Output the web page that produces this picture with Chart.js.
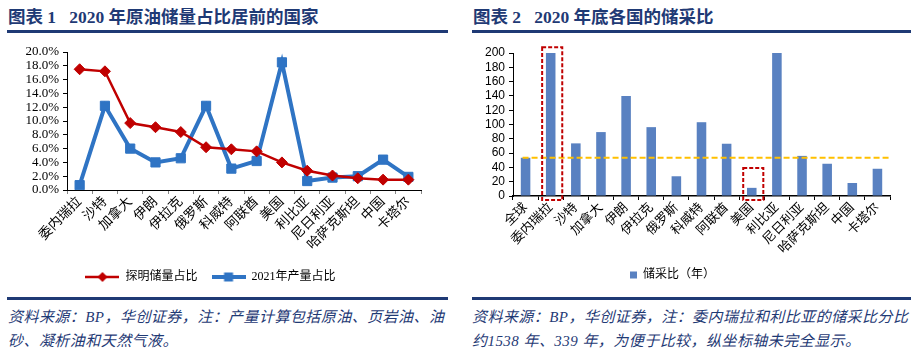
<!DOCTYPE html>
<html>
<head>
<meta charset="utf-8">
<script src="https://cdn.jsdelivr.net/npm/chart.js@4.4.1/dist/chart.umd.min.js"></script>
<style>
body { margin: 0; width: 911px; height: 354px; background: #fff; position: relative; overflow: hidden;
  font-family: "Liberation Serif", "Noto Sans CJK SC", serif; }
.title { position: absolute; top: 6px; font-size: 17.5px; font-weight: bold; color: #1f3a75; white-space: pre; line-height: 22px; }
.rule { position: absolute; height: 3px; background: #1f3a75; }
.note { position: absolute; font-size: 15px; font-style: italic; color: #1f3a75; white-space: nowrap; line-height: 20px; letter-spacing: 0.45px; }
.wrap { position: absolute; top: 36px; }
</style>
</head>
<body>
<div class="title" style="left:8px">图表 1   2020 年原油储量占比居前的国家</div>
<div class="title" style="left:473px">图表 2   2020 年底各国的储采比</div>
<div class="rule" style="left:7px;width:441px;top:30px"></div>
<div class="rule" style="left:472px;width:439px;top:30px"></div>

<div class="wrap" style="left:0;width:455px;height:257px"><canvas id="share"></canvas></div>
<div class="wrap" style="left:455px;width:456px;height:255px"><canvas id="ratio"></canvas></div>

<div class="rule" style="left:7px;width:441px;top:297px"></div>
<div class="rule" style="left:472px;width:439px;top:297px"></div>
<div class="note" style="left:8px;top:307px">资料来源：BP，华创证券，注：产量计算包括原油、页岩油、油</div>
<div class="note" style="left:8px;top:331px">砂、凝析油和天然气液。</div>
<div class="note" style="left:472px;top:307px">资料来源：BP，华创证券，注：委内瑞拉和利比亚的储采比分比</div>
<div class="note" style="left:472px;top:331px">约1538 年、339 年，为便于比较，纵坐标轴未完全显示。</div>

<script>
const countries = ['委内瑞拉', '沙特', '加拿大', '伊朗', '伊拉克', '俄罗斯', '科威特', '阿联酋', '美国', '利比亚', '尼日利亚', '哈萨克斯坦', '中国', '卡塔尔'];
const reserveShare = [17.5, 17.2, 9.7, 9.1, 8.4, 6.2, 5.9, 5.6, 4.0, 2.8, 2.1, 1.7, 1.5, 1.5];
const outputShare = [0.7, 12.2, 6.0, 4.0, 4.6, 12.2, 3.1, 4.2, 18.5, 1.3, 1.8, 2.0, 4.4, 1.9];

const ratioCountries = ['全球', '委内瑞拉', '沙特', '加拿大', '伊朗', '伊拉克', '俄罗斯', '科威特', '阿联酋', '美国', '利比亚', '尼日利亚', '哈萨克斯坦', '中国', '卡塔尔'];
const rpRatio = [53.5, 200, 73.6, 89.4, 139.8, 96.3, 27.6, 103.2, 73.1, 11.4, 200, 56.1, 45.1, 18.2, 38.1];
const globalRatio = 53.5;
const boxedCountries = ['委内瑞拉', '美国'];
const boxTops = [208, 39];

const serif = "'Liberation Serif', 'Noto Sans CJK SC', serif";
const RED = '#c00000';
const BLUE = '#2f74c4';

// small legend swatch: line with a marker in the middle
const swatch = (color, lw, marker) => {
    const c = document.createElement('canvas');
    c.width = 34; c.height = 14;
    const g = c.getContext('2d');
    g.strokeStyle = color; g.fillStyle = color; g.lineWidth = lw;
    g.beginPath(); g.moveTo(0, 7); g.lineTo(34, 7); g.stroke();
    g.beginPath();
    if (marker === 'diamond') {
        g.moveTo(17, 2); g.lineTo(22, 7); g.lineTo(17, 12); g.lineTo(12, 7);
    } else {
        g.rect(12.5, 2.5, 9, 9);
    }
    g.fill();
    return c;
};

new Chart(document.getElementById('share'), {
    type: 'line',
    data: {
        labels: countries,
        datasets: [
            {
                label: '探明储量占比',
                data: reserveShare,
                borderColor: RED,
                backgroundColor: RED,
                borderWidth: 2.5,
                pointStyle: 'rectRot',
                pointRadius: 5.5,
                pointBorderWidth: 1,
                tension: 0,
            },
            {
                label: '2021年产量占比',
                data: outputShare,
                borderColor: BLUE,
                backgroundColor: BLUE,
                borderWidth: 4,
                pointStyle: 'rect',
                pointRadius: 6.5,
                pointBorderWidth: 1,
                tension: 0,
            }
        ]
    },
    options: {
        responsive: true,
        maintainAspectRatio: false,
        animation: false,
        layout: { padding: { top: 16, right: 34, left: 0, bottom: 0 } },
        plugins: {
            legend: {
                position: 'bottom',
                labels: {
                    usePointStyle: true,
                    pointStyleWidth: 34,
                    padding: 14,
                    color: '#000',
                    font: { size: 12, family: serif },
                    generateLabels: (chart) => [
                        { text: '探明储量占比', pointStyle: swatch(RED, 2.5, 'diamond'), datasetIndex: 0, lineWidth: 0, fillStyle: RED, strokeStyle: RED },
                        { text: '2021年产量占比', pointStyle: swatch(BLUE, 4, 'square'), datasetIndex: 1, lineWidth: 0, fillStyle: BLUE, strokeStyle: BLUE },
                    ]
                }
            },
            tooltip: { enabled: false }
        },
        scales: {
            x: {
                offset: true,
                afterFit: (scale) => { scale.height = 67; },
                grid: { offset: true, drawOnChartArea: false, tickLength: 4, color: '#888' },
                border: { color: '#000', width: 1 },
                ticks: { minRotation: 45, maxRotation: 45, autoSkip: false, padding: 0, color: '#000', font: { size: 13.5, family: serif } }
            },
            y: {
                min: 0,
                max: 20,
                afterFit: (scale) => { scale.width = 67; },
                grid: { drawOnChartArea: false, tickLength: 4, color: '#000' },
                border: { color: '#000', width: 1 },
                ticks: { stepSize: 2, autoSkip: false, padding: 4, color: '#000', font: { size: 13, family: serif },
                    callback: (v) => v.toFixed(1) + '%' }
            }
        }
    }
});

const refMarks = {
    id: 'refMarks',
    afterDatasetsDraw(chart) {
        const { ctx, chartArea, scales: { x, y } } = chart;
        const cat = x.width / ratioCountries.length;
        ctx.save();
        ctx.strokeStyle = '#ffc000';
        ctx.lineWidth = 2;
        ctx.setLineDash([6, 3]);
        const gy = y.getPixelForValue(globalRatio);
        ctx.beginPath();
        ctx.moveTo(x.getPixelForValue(0) - 3, gy);
        ctx.lineTo(chartArea.right, gy);
        ctx.stroke();

        ctx.strokeStyle = RED;
        ctx.setLineDash([4, 2]);
        boxedCountries.forEach((name, i) => {
            const cx = x.getPixelForValue(ratioCountries.indexOf(name)) + 1.5;
            const top = y.getPixelForValue(boxTops[i]);
            const bottom = chartArea.bottom + 4;
            const half = cat * 0.4;
            ctx.strokeRect(cx - half, top, half * 2, bottom - top);
        });
        ctx.restore();
    }
};

new Chart(document.getElementById('ratio'), {
    type: 'bar',
    data: {
        labels: ratioCountries,
        datasets: [{
            label: '储采比（年）',
            data: rpRatio,
            backgroundColor: '#5981c1',
            barPercentage: 0.38,
            categoryPercentage: 1,
        }]
    },
    options: {
        responsive: true,
        maintainAspectRatio: false,
        animation: false,
        layout: { padding: { top: 17, right: 21, left: 0, bottom: 0 } },
        plugins: {
            legend: {
                position: 'bottom',
                labels: { boxWidth: 7, boxHeight: 7, padding: 10, color: '#000', font: { size: 12, family: serif } }
            },
            tooltip: { enabled: false }
        },
        scales: {
            x: {
                afterFit: (scale) => { scale.height = 63; },
                grid: { offset: true, drawOnChartArea: false, tickLength: 4, color: '#000' },
                border: { color: '#000', width: 1.5 },
                ticks: { minRotation: 45, maxRotation: 45, autoSkip: false, padding: 0, color: '#000', font: { size: 13, family: serif } }
            },
            y: {
                min: 0,
                max: 200,
                afterFit: (scale) => { scale.width = 58; },
                grid: { drawOnChartArea: false, tickLength: 4, color: '#000' },
                border: { color: '#000', width: 1 },
                ticks: { stepSize: 20, autoSkip: false, padding: 4, color: '#000', font: { size: 12, family: "'Liberation Sans', sans-serif" } }
            }
        }
    },
    plugins: [refMarks]
});
</script>
</body>
</html>
